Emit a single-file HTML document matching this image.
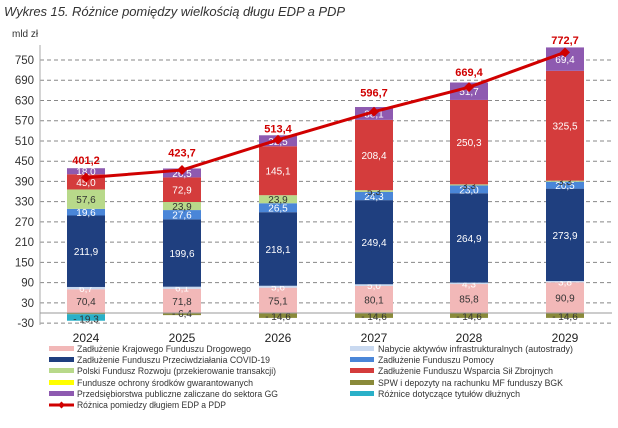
<!DOCTYPE html>
<html><head><meta charset="utf-8"><style>
body{margin:0;background:#fff;width:618px;height:423px;overflow:hidden}
svg{font-family:"Liberation Sans",sans-serif}
</style></head><body>
<svg width="618" height="423" xmlns="http://www.w3.org/2000/svg">
<text x="4" y="16" font-size="13" font-style="italic" fill="#333" textLength="341">Wykres 15. Różnice pomiędzy wielkością długu EDP a PDP</text>
<text x="12" y="37" font-size="10" fill="#333">mld zł</text>
<g id="grid" stroke="#888" stroke-dasharray="4,3" stroke-width="1"></g>
<g id="ylab" font-size="11.5" fill="#333" text-anchor="end"></g>
<line x1="40" y1="45" x2="40" y2="325" stroke="#aaa"/>
<g id="bars"></g>
<line x1="40" y1="313" x2="612" y2="313" stroke="#999"/>
<g id="line"></g>
<g id="xl" font-size="12" fill="#222" text-anchor="middle"></g>
<g font-size="9.5" fill="#333">
<rect x="49" y="346" width="25" height="5" fill="#f2b8b8"/><text x="77" y="352" textLength="174" lengthAdjust="spacingAndGlyphs">Zadłużenie Krajowego Funduszu Drogowego</text>
<rect x="49" y="357" width="25" height="5" fill="#1f3f7f"/><text x="77" y="363" textLength="193" lengthAdjust="spacingAndGlyphs">Zadłużenie Funduszu Przeciwdziałania COVID-19</text>
<rect x="49" y="368" width="25" height="5" fill="#b8d98a"/><text x="77" y="374" textLength="199" lengthAdjust="spacingAndGlyphs">Polski Fundusz Rozwoju (przekierowanie transakcji)</text>
<rect x="49" y="380" width="25" height="5" fill="#ffff00"/><text x="77" y="386" textLength="176" lengthAdjust="spacingAndGlyphs">Fundusze ochrony środków gwarantowanych</text>
<rect x="49" y="391" width="25" height="5" fill="#8e5ab0"/><text x="77" y="397" textLength="201" lengthAdjust="spacingAndGlyphs">Przedsiębiorstwa publiczne zaliczane do sektora GG</text>
<line x1="49" y1="405" x2="74" y2="405" stroke="#d00000" stroke-width="3"/><path d="M61.5 401.5 L65 405 L61.5 408.5 L58 405Z" fill="#d00000"/><text x="77" y="408" textLength="149" lengthAdjust="spacingAndGlyphs">Różnica pomiedzy długiem EDP a PDP</text>
<rect x="350" y="346" width="24" height="5" fill="#c9d9f0"/><text x="378" y="352" textLength="195" lengthAdjust="spacingAndGlyphs">Nabycie aktywów infrastrukturalnych (autostrady)</text>
<rect x="350" y="357" width="24" height="5" fill="#4a86d8"/><text x="378" y="363" textLength="116" lengthAdjust="spacingAndGlyphs">Zadłużenie Funduszu Pomocy</text>
<rect x="350" y="368" width="24" height="5" fill="#d43c3c"/><text x="378" y="374" textLength="175" lengthAdjust="spacingAndGlyphs">Zadłużenie Funduszu Wsparcia Sił Zbrojnych</text>
<rect x="350" y="380" width="24" height="5" fill="#8a8a3a"/><text x="378" y="386" textLength="185" lengthAdjust="spacingAndGlyphs">SPW i depozyty na rachunku MF funduszy BGK</text>
<rect x="350" y="391" width="24" height="5" fill="#2ab0c8"/><text x="378" y="397" textLength="142" lengthAdjust="spacingAndGlyphs">Różnice dotyczące tytułów dłużnych</text>
</g>
</svg>
<script>
const k=0.3373,Y=v=>60+(750-v)*k,NS="http://www.w3.org/2000/svg";
function el(p,t,a,txt){const e=document.createElementNS(NS,t);for(const x in a)e.setAttribute(x,a[x]);if(txt!==undefined)e.textContent=txt;document.getElementById(p).appendChild(e);return e;}
for(let v=-30;v<=750;v+=60){el("grid","line",{x1:40,x2:612,y1:Y(v),y2:Y(v)});el("ylab","text",{x:34,y:Y(v)+4},String(v));}
const C=["#f2b8b8","#c9d9f0","#1f3f7f","#4a86d8","#b8d98a","#d43c3c","#8e5ab0"];
const TC=["#333","#fff","#fff","#fff","#333","#fff","#fff"];
const D=[[70.4,6.7,211.9,19.6,57.6,45.0,18.0],[71.8,6.1,199.6,27.6,23.9,72.9,26.5],[75.1,5.6,218.1,26.5,23.9,145.1,32.5],[80.1,5.0,249.4,24.3,5.3,208.4,38.1],[85.8,4.3,264.9,23.0,3.3,250.3,51.7],[90.9,3.8,273.9,20.5,3.3,325.5,69.4]];
const N=[[[-3.7,"#8a8a3a"],[-19.3,"#2ab0c8"]],[[-6.4,"#8a8a3a"]],[[-14.6,"#8a8a3a"]],[[-14.6,"#8a8a3a"]],[[-14.6,"#8a8a3a"]],[[-14.6,"#8a8a3a"]]];
const L=[401.2,423.7,513.4,596.7,669.4,772.7];const X=[86,182,278,374,469,565];
const f=v=>v.toFixed(1).replace(".",",");
D.forEach((s,i)=>{let b=0;s.forEach((v,j)=>{el("bars","rect",{x:X[i]-19,y:Y(b+v),width:38,height:v*k,fill:C[j]});
el("bars","text",{x:X[i],y:Y(b+v/2)+4,"font-size":10,fill:TC[j],"text-anchor":"middle","font-family":"Liberation Sans"},f(v));b+=v;});
let n=0;N[i].forEach(([v,c])=>{el("bars","rect",{x:X[i]-19,y:Y(n),width:38,height:-v*k,fill:c});n+=v;});
el("bars","text",{x:X[i],y:Y(n)+2,"font-size":10,fill:"#333","text-anchor":"middle","font-family":"Liberation Sans"},"- "+f(-N[i][N[i].length-1][0]));
el("xl","text",{x:X[i],y:342},String(2024+i));});
el("line","polyline",{points:L.map((v,i)=>X[i]+","+Y(v)).join(" "),fill:"none",stroke:"#d00000","stroke-width":3});
L.forEach((v,i)=>{const x=X[i],y=Y(v);el("line","path",{d:`M${x} ${y-5}L${x+5} ${y}L${x} ${y+5}L${x-5} ${y}Z`,fill:"#d00000"});
el("line","text",{x:x,y:Y(i==0||i==1?v+40:(i==5?787.3+10:[0,0,527,634,694][i]+8)),"font-size":11,"font-weight":"bold",fill:"#d00000","text-anchor":"middle","font-family":"Liberation Sans"},f(v));});
</script>
</body></html>
